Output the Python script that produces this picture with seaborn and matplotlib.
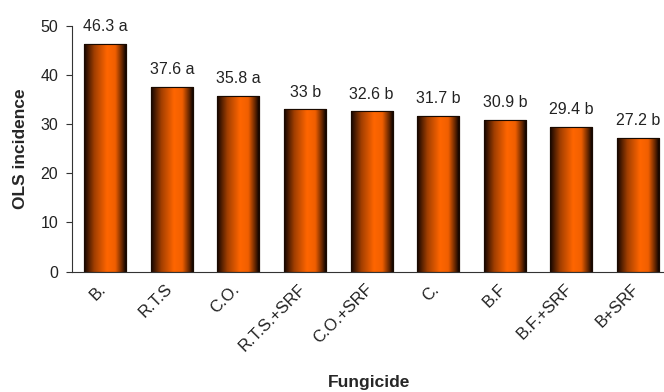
import numpy as np
import pandas as pd
import matplotlib
matplotlib.use("Agg")
import matplotlib.pyplot as plt
import matplotlib.transforms as mtransforms
import seaborn as sns
from matplotlib.colors import LinearSegmentedColormap

# data
fungicides = ["B.", "R.T.S", "C.O.", "R.T.S.+SRF", "C.O.+SRF", "C.", "B.F", "B.F.+SRF", "B+SRF"]
incidence = [46.3, 37.6, 35.8, 33.0, 32.6, 31.7, 30.9, 29.4, 27.2]
groups = ["a", "a", "a", "b", "b", "b", "b", "b", "b"]
value_labels = ["46.3", "37.6", "35.8", "33", "32.6", "31.7", "30.9", "29.4", "27.2"]

df = pd.DataFrame({"Fungicide": fungicides, "OLS incidence": incidence})

sns.set_style("white")
plt.rcParams["font.family"] = ["Liberation Sans", "DejaVu Sans"]

fig = plt.figure(figsize=(6.64, 3.92), dpi=100)
ax = fig.add_axes([0.1084, 0.3069, 0.9027, 0.6276])

sns.barplot(data=df, x="Fungicide", y="OLS incidence", color="#FF6600",
            width=0.63, edgecolor="#1a0a00", linewidth=0.8, saturation=1, ax=ax)

# cylinder-like shading: dark edges, bright orange centre
shade = LinearSegmentedColormap.from_list(
    "cyl", [(0.0, "#120500"), (0.25, "#a33f00"), (0.55, "#ff6600"),
            (0.75, "#f05f00"), (0.92, "#5a2200"), (1.0, "#0d0400")])
grad = np.linspace(0, 1, 256).reshape(1, -1)
for p in ax.patches:
    x0, w, h = p.get_x(), p.get_width(), p.get_height()
    im = ax.imshow(grad, cmap=shade, aspect="auto", extent=(x0, x0 + w, 0, h),
                   interpolation="bicubic", zorder=p.get_zorder() + 0.1)
    im.set_clip_path(p)
    ax.add_patch(plt.Rectangle((x0, 0), w, h, fill=False, edgecolor="#1a0a00",
                               linewidth=0.8, zorder=p.get_zorder() + 0.2))

ax.bar_label(ax.containers[0], labels=[f"{v} {g}" for v, g in zip(value_labels, groups)],
             padding=7, fontsize=11.5, color="#222222")

ax.set_xlim(-0.5, len(fungicides) - 0.5)
ax.set_ylim(0, 50)
ax.set_yticks(range(0, 51, 10))
ax.set_xticks(np.arange(-0.5, len(fungicides), 1.0), minor=True)
ax.tick_params(axis="x", which="major", length=0, pad=7)
ax.tick_params(axis="x", which="minor", length=5, width=0.8, color="#333333", direction="out")
ax.tick_params(axis="y", length=4, width=0.8, color="#333333", direction="out", left=True, pad=6)
ax.set_xticklabels(fungicides, rotation=45, ha="right", rotation_mode="anchor", fontsize=12,
                   color="#222222")
ax.tick_params(axis="y", labelsize=11.5, labelcolor="#222222")

# nudge the slanted labels a little to the left, as in the original
shift = mtransforms.ScaledTranslation(-5 / 72, 0, fig.dpi_scale_trans)
for lbl in ax.get_xticklabels():
    lbl.set_transform(lbl.get_transform() + shift)

for side in ["top", "right"]:
    ax.spines[side].set_visible(False)
for side in ["left", "bottom"]:
    ax.spines[side].set_color("#333333")
    ax.spines[side].set_linewidth(0.8)

ax.set_xlabel("Fungicide", fontsize=12.5, fontweight="bold")
ax.set_ylabel("OLS incidence", fontsize=12.5, fontweight="bold")
ax.xaxis.set_label_coords(0.495, -0.42)
ax.yaxis.set_label_coords(-0.074, 0.5)

fig.savefig("out.png", dpi=100)
